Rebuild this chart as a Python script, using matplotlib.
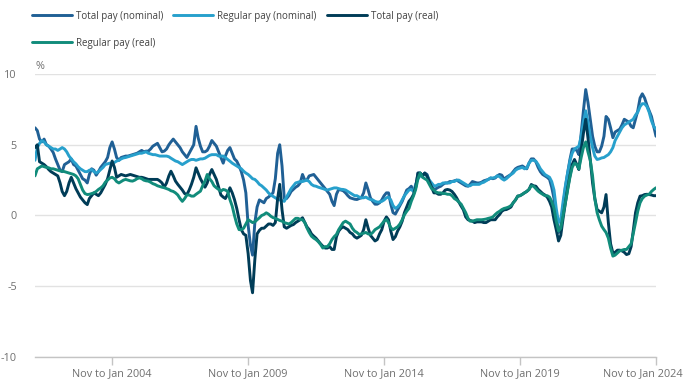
import matplotlib
matplotlib.use("Agg")
import matplotlib.pyplot as plt
import matplotlib.transforms as mtransforms
import pandas as pd

plt.rcParams['font.family'] = ['Open Sans', 'DejaVu Sans']
plt.rcParams['axes.unicode_minus'] = False

# Rolling three-month periods, Jan-Mar 2001 ... Nov-Jan 2024 (labelled by last month)
months = pd.date_range('2001-03-01', '2024-01-01', freq='MS')

total_nominal = [
    6.2, 6.0, 5.4, 5.2, 5.4, 5.0, 4.9, 4.7, 4.45, 4.0,                 # 2001 Mar-Dec
    3.6, 3.2, 3.1, 3.6, 3.7, 3.8, 4.0, 3.6, 3.5, 3.2, 2.9, 2.6,         # 2002
    2.5, 2.3, 2.9, 3.3, 3.2, 2.85, 3.1, 3.4, 3.6, 3.8, 4.1, 4.8,        # 2003
    5.2, 4.7, 4.1, 3.9, 4.1, 4.15, 4.2, 4.2, 4.25, 4.3, 4.35, 4.4,      # 2004
    4.5, 4.6, 4.5, 4.55, 4.55, 4.7, 4.9, 5.0, 5.1, 4.8, 4.5, 4.55,      # 2005
    4.7, 5.0, 5.2, 5.4, 5.2, 5.0, 4.8, 4.5, 4.3, 4.1, 4.4, 4.7,         # 2006
    5.0, 6.3, 5.5, 4.9, 4.5, 4.5, 4.6, 4.9, 5.3, 5.1, 4.9, 4.5,         # 2007
    4.1, 3.7, 4.2, 4.6, 4.8, 4.4, 4.0, 3.84, 3.5, 3.1, 2.5, 1.6,        # 2008
    -0.7, -2.1, -2.8, -0.5, 0.6, 1.1, 1.0, 0.9, 1.2, 1.3, 1.45, 1.6,    # 2009
    2.6, 4.4, 5.0, 3.5, 1.2, 1.2, 1.4, 1.7, 1.85, 2.0, 2.1, 2.3,        # 2010
    2.9, 2.5, 2.5, 2.8, 2.85, 2.9, 2.7, 2.5, 2.3, 2.1, 1.9, 1.7,        # 2011
    1.5, 1.0, 0.7, 1.5, 1.84, 1.8, 1.75, 1.6, 1.4, 1.25, 1.2, 1.15,     # 2012
    1.13, 1.2, 1.25, 1.6, 2.3, 1.8, 1.25, 1.0, 0.8, 0.8, 0.9, 1.1,      # 2013
    1.4, 1.6, 1.6, 0.8, 0.2, 0.1, 0.4, 0.7, 1.0, 1.4, 1.8, 1.9,         # 2014
    2.07, 1.7, 2.0, 3.0, 3.0, 2.8, 3.0, 2.9, 2.4, 2.1, 1.84, 1.9,       # 2015
    2.0, 2.07, 2.2, 2.3, 2.3, 2.4, 2.4, 2.45, 2.5, 2.4, 2.3, 2.2,       # 2016
    2.1, 2.07, 2.2, 2.4, 2.35, 2.3, 2.3, 2.35, 2.45, 2.5, 2.55, 2.65,   # 2017
    2.6, 2.65, 2.8, 2.9, 2.85, 2.55, 2.7, 2.8, 2.9, 3.1, 3.3, 3.4,      # 2018
    3.45, 3.5, 3.4, 3.3, 3.7, 4.0, 4.0, 3.8, 3.4, 3.1, 2.9, 2.8,        # 2019
    2.7, 2.55, 2.0, 1.2, 0.0, -1.2, -0.8, 0.6, 2.0, 3.0, 3.96, 4.7,     # 2020
    4.7, 4.6, 4.3, 5.8, 7.4, 8.9, 8.0, 6.8, 5.6, 4.9, 4.5, 4.5,         # 2021
    4.9, 5.6, 7.0, 6.8, 6.2, 5.5, 5.9, 6.0, 6.1, 6.4, 6.8, 6.7,         # 2022
    6.6, 6.3, 6.2, 6.8, 7.4, 8.3, 8.6, 8.3, 7.8, 7.4, 7.0, 6.3,         # 2023
    5.6,                                                               # 2024 Jan
]

regular_nominal = [
    3.9, 4.8, 5.1, 5.3, 5.2, 5.0, 4.9, 4.8, 4.7, 4.7,
    4.6, 4.7, 4.8, 4.7, 4.5, 4.2, 4.0, 3.8, 3.65, 3.45, 3.3, 3.2,
    3.1, 3.1, 3.2, 3.25, 3.1, 3.0, 3.1, 3.25, 3.4, 3.6, 3.65, 3.7,
    3.7, 3.75, 3.85, 3.9, 4.0, 4.07, 4.1, 4.15, 4.2, 4.25, 4.3, 4.35,
    4.4, 4.4, 4.45, 4.5, 4.4, 4.35, 4.3, 4.3, 4.25, 4.2, 4.2, 4.2,
    4.2, 4.15, 4.05, 3.95, 3.85, 3.8, 3.7, 3.6, 3.7, 3.8, 3.9, 3.96,
    3.96, 3.9, 3.95, 4.0, 4.0, 4.05, 4.15, 4.25, 4.3, 4.3, 4.3, 4.2,
    4.2, 4.2, 4.1, 3.96, 3.84, 3.7, 3.6, 3.5, 3.4, 3.3, 3.13, 3.0,
    2.9, 2.75, 2.6, 2.55, 2.4, 2.2, 2.1, 1.95, 1.8, 1.6, 1.45, 1.35,
    1.25, 1.15, 1.1, 1.05, 1.0, 1.3, 1.6, 1.9, 2.1, 2.3, 2.35, 2.4,
    2.4, 2.45, 2.5, 2.4, 2.2, 2.1, 2.07, 2.0, 1.95, 1.9, 1.84, 1.8,
    1.85, 1.9, 1.95, 1.95, 1.9, 1.85, 1.84, 1.8, 1.7, 1.6, 1.5, 1.4,
    1.4, 1.3, 1.25, 1.25, 1.3, 1.2, 1.13, 1.1, 1.0, 0.95, 0.95, 1.0,
    1.1, 1.25, 1.3, 1.1, 0.7, 0.5, 0.6, 0.8, 1.1, 1.4, 1.6, 1.8,
    1.84, 1.7, 2.2, 2.6, 2.8, 2.9, 2.9, 2.8, 2.5, 2.3, 2.1, 2.1,
    2.2, 2.2, 2.3, 2.3, 2.3, 2.3, 2.4, 2.4, 2.5, 2.5, 2.4, 2.3,
    2.2, 2.1, 2.1, 2.2, 2.2, 2.2, 2.2, 2.3, 2.35, 2.45, 2.55, 2.65,
    2.65, 2.7, 2.8, 2.75, 2.6, 2.5, 2.6, 2.75, 2.9, 3.0, 3.2, 3.3,
    3.35, 3.4, 3.3, 3.35, 3.7, 3.9, 3.9, 3.84, 3.6, 3.3, 3.1, 2.9,
    2.8, 2.7, 2.4, 1.8, 0.5, -0.5, -0.3, 1.0, 2.1, 3.0, 3.84, 4.4,
    4.7, 4.8, 4.9, 5.6, 6.6, 7.4, 6.6, 5.6, 4.8, 4.2, 3.96, 4.0,
    4.07, 4.1, 4.2, 4.3, 4.5, 4.8, 5.3, 5.6, 5.9, 6.2, 6.4, 6.5,
    6.6, 6.7, 6.8, 7.1, 7.3, 7.7, 7.9, 7.9, 7.7, 7.3, 6.7, 6.3,
    6.1,
]

total_real = [
    4.8, 5.0, 3.8, 3.7, 3.6, 3.45, 3.25, 3.1, 3.0, 2.9,
    2.8, 2.3, 1.7, 1.4, 1.7, 2.3, 2.7, 2.3, 1.9, 1.6, 1.3, 1.1,
    0.9, 0.77, 1.2, 1.4, 1.6, 1.5, 1.4, 1.6, 1.9, 2.2, 2.6, 3.2,
    3.85, 3.4, 2.7, 2.8, 2.9, 2.85, 2.8, 2.85, 2.9, 2.85, 2.8, 2.75,
    2.7, 2.7, 2.66, 2.6, 2.55, 2.55, 2.55, 2.55, 2.55, 2.45, 2.3, 2.0,
    2.3, 2.8, 3.13, 2.8, 2.43, 2.2, 2.0, 1.8, 1.55, 1.48, 1.8, 2.2,
    2.7, 3.37, 3.0, 2.6, 2.3, 2.0, 2.3, 2.9, 3.25, 2.9, 2.55, 2.0,
    1.45, 1.3, 1.2, 1.5, 1.96, 1.6, 1.13, 0.5, -0.3, -1.0, -1.3, -1.4,
    -2.7, -4.6, -5.46, -3.1, -1.3, -1.05, -0.9, -0.9, -0.75, -0.6, -0.6, -0.7,
    -0.5, 1.2, 2.2, 0.4, -0.8, -0.9, -0.8, -0.7, -0.64, -0.5, -0.4, -0.3,
    -0.16, -0.5, -0.8, -1.0, -1.3, -1.46, -1.6, -1.8, -2.0, -2.17, -2.3, -2.3,
    -2.2, -2.4, -2.4, -1.5, -1.1, -0.9, -0.8, -0.9, -1.0, -1.2, -1.3, -1.5,
    -1.6, -1.5, -1.4, -1.0, -0.3, -0.9, -1.4, -1.6, -1.8, -1.7, -1.3, -1.0,
    -0.4, -0.1, -0.3, -1.1, -1.7, -1.5, -1.1, -0.8, -0.4, 0.2, 0.6, 1.0,
    1.2, 1.5, 2.0, 3.0, 3.0, 2.8, 3.0, 2.8, 2.4, 2.0, 1.6, 1.6,
    1.5, 1.5, 1.6, 1.8, 1.84, 1.8, 1.7, 1.5, 1.25, 0.95, 0.66, 0.4,
    -0.1, -0.3, -0.35, -0.4, -0.5, -0.45, -0.45, -0.45, -0.5, -0.5, -0.4, -0.3,
    -0.3, -0.3, -0.1, 0.07, 0.3, 0.4, 0.42, 0.5, 0.6, 0.9, 1.1, 1.37,
    1.4, 1.5, 1.6, 1.7, 1.84, 2.19, 2.1, 2.07, 1.85, 1.7, 1.55, 1.45,
    1.3, 1.0, 0.6, -0.3, -1.0, -1.8, -1.4, -0.2, 0.9, 1.9, 2.8, 3.6,
    3.96, 3.6, 3.25, 4.6, 5.8, 6.8, 5.5, 3.96, 2.3, 1.2, 0.42, 0.3,
    0.19, 0.6, 1.48, -0.5, -2.0, -2.64, -2.6, -2.45, -2.45, -2.5, -2.6, -2.76,
    -2.7, -2.2, -1.1, 0.2, 0.9, 1.37, 1.4, 1.48, 1.5, 1.48, 1.45, 1.4,
    1.4,
]

regular_real = [
    2.8, 3.3, 3.4, 3.5, 3.45, 3.4, 3.37, 3.3, 3.3, 3.25,
    3.2, 3.15, 3.13, 3.1, 3.05, 3.0, 2.95, 2.9, 2.8, 2.6, 2.2, 1.8,
    1.55, 1.48, 1.5, 1.55, 1.6, 1.7, 1.84, 1.95, 2.1, 2.35, 2.5, 2.65,
    2.7, 2.6, 2.4, 2.3, 2.4, 2.5, 2.55, 2.5, 2.45, 2.43, 2.5, 2.6,
    2.66, 2.6, 2.5, 2.45, 2.43, 2.35, 2.25, 2.19, 2.1, 2.05, 2.0, 1.96,
    1.9, 1.84, 1.75, 1.7, 1.6, 1.45, 1.2, 1.0, 1.2, 1.45, 1.45, 1.37,
    1.37, 1.5, 1.6, 1.72, 2.1, 2.43, 2.9, 2.6, 2.4, 2.1, 1.96, 1.84,
    1.72, 1.84, 1.8, 1.7, 1.13, 0.66, 0.0, -0.6, -1.0, -1.0, -0.9, -0.6,
    -0.3, -0.4, -0.5, -0.45, -0.3, -0.16, 0.0, 0.07, 0.19, 0.1, -0.05, -0.15,
    -0.2, -0.28, -0.35, -0.4, -0.5, -0.55, -0.6, -0.5, -0.35, -0.2, -0.2, -0.28,
    -0.3, -0.5, -0.87, -1.2, -1.46, -1.6, -1.7, -1.85, -2.05, -2.3, -2.2, -2.2,
    -2.0, -1.7, -1.5, -1.34, -1.0, -0.75, -0.5, -0.4, -0.5, -0.6, -0.9, -1.1,
    -1.2, -1.34, -1.3, -1.25, -1.2, -1.3, -1.34, -1.2, -1.0, -0.9, -0.8, -0.6,
    -0.4, -0.28, -0.5, -0.87, -1.0, -0.9, -0.8, -0.6, -0.3, 0.05, 0.3, 0.5,
    1.0, 1.4, 1.84, 2.6, 3.0, 2.7, 2.6, 2.5, 2.2, 1.9, 1.8, 1.65,
    1.6, 1.6, 1.55, 1.55, 1.5, 1.5, 1.4, 1.2, 1.1, 0.95, 0.8, 0.5,
    0.2, -0.2, -0.4, -0.4, -0.35, -0.3, -0.3, -0.3, -0.28, -0.25, -0.2, -0.16,
    -0.1, 0.07, 0.2, 0.3, 0.42, 0.5, 0.54, 0.6, 0.7, 0.9, 1.1, 1.37,
    1.4, 1.5, 1.6, 1.7, 1.84, 2.1, 2.07, 1.9, 1.72, 1.6, 1.5, 1.4,
    1.4, 1.3, 1.0, 0.5, -0.4, -1.1, -0.9, 0.0, 0.9, 1.8, 2.7, 3.4,
    3.7, 3.6, 3.3, 4.1, 4.8, 5.2, 4.5, 3.9, 2.8, 1.2, 0.2, -0.3,
    -0.75, -1.0, -1.2, -1.6, -2.3, -2.87, -2.8, -2.65, -2.5, -2.45, -2.4, -2.4,
    -2.2, -2.0, -1.3, -0.5, 0.3, 0.9, 1.2, 1.37, 1.45, 1.5, 1.7, 1.84,
    1.96,
]

series_labels = ['Total pay (nominal)', 'Regular pay (nominal)',
                 'Total pay (real)', 'Regular pay (real)']
series_colors = ['#206095', '#27A0CC', '#003C57', '#118C7B']
series_values = [total_nominal, regular_nominal, total_real, regular_real]

tick_years = [2004, 2009, 2014, 2019, 2024]
tick_labels = [f'Nov to Jan {y}' for y in tick_years]
y_ticks = [-10, -5, 0, 5, 10]
y_tick_labels = ['-10', '-5', '0', '5', '10']

W, H = 686, 386
fig = plt.figure(figsize=(W / 100, H / 100), dpi=100)
ax = fig.add_axes([35 / W, 29 / H, 621 / W, 283 / H])

lines = []
for vals, col, lab in zip(series_values, series_colors, series_labels):
    ln, = ax.plot(months, vals, color=col, lw=2.1, label=lab,
                  solid_joinstyle='round', solid_capstyle='round')
    lines.append(ln)

ax.set_xlim(months[0], months[-1])
ax.set_ylim(-10, 10)
ax.set_yticks(y_ticks)
ax.set_yticklabels(y_tick_labels)
ax.set_xticks(pd.to_datetime([f'{y}-01-01' for y in tick_years]))
ax.set_xticklabels(tick_labels)

ax.yaxis.grid(True, color='#e2e2e2', lw=1)
ax.set_axisbelow(True)
for s in ['top', 'right', 'left']:
    ax.spines[s].set_visible(False)
ax.spines['bottom'].set_color('#c4c4c4')
ax.spines['bottom'].set_linewidth(1)

ax.tick_params(axis='x', length=5.8, width=1, color='#c4c4c4',
               labelsize=7.8, labelcolor='#707070', pad=2)
ax.tick_params(axis='y', length=0, pad=13, labelsize=7.8, labelcolor='#707070')

# keep the last date label inside the figure, as in the original
last = ax.get_xticklabels()[-1]
last.set_transform(last.get_transform() +
                   mtransforms.ScaledTranslation(-13 / 100, 0, fig.dpi_scale_trans))

ax.annotate('%', xy=(0, 1), xycoords='axes fraction', xytext=(0, 1.5),
            textcoords='offset points', ha='left', va='bottom',
            fontsize=7.8, color='#707070')

leg_size = 7.0
em = leg_size * 100 / 72
order = [0, 3, 1, 2]
fig.legend([lines[i] for i in order], [series_labels[i] for i in order],
           loc='upper left', bbox_to_anchor=(32 / W, 1 - 10.5 / H),
           bbox_transform=fig.transFigure, ncol=3,
           frameon=False, handlelength=40 / em, handletextpad=4 / em,
           columnspacing=10 / em, labelspacing=1.65,
           borderpad=0, borderaxespad=0,
           prop={'family': 'Open Sans', 'size': leg_size},
           labelcolor='#414141')

fig.savefig('out.png', dpi=100)
